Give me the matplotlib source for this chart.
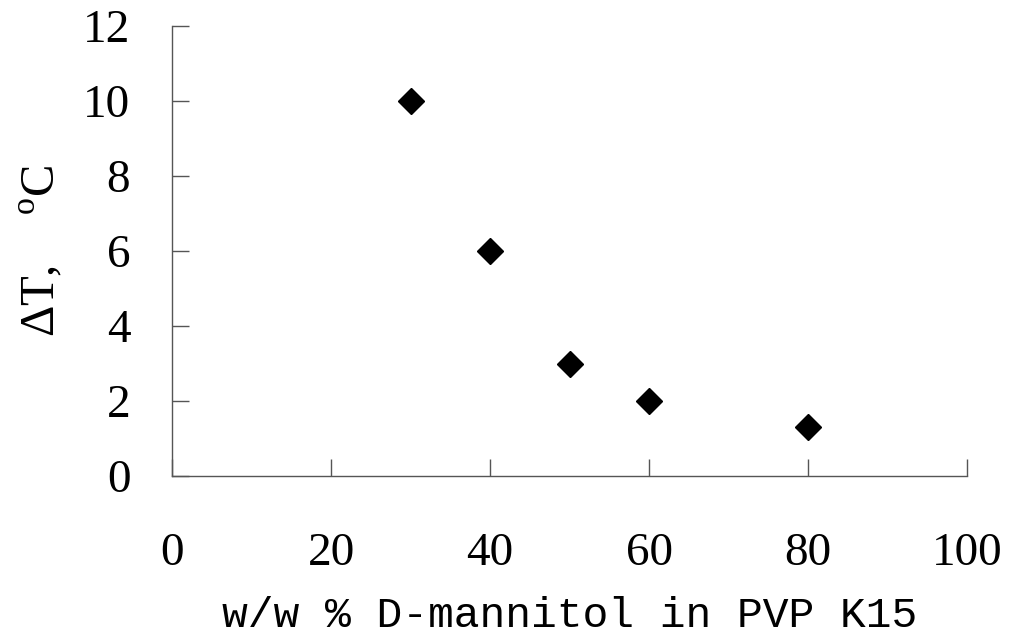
import matplotlib
matplotlib.use("Agg")
import matplotlib.pyplot as plt

# Data
mannitol_pct = [30, 40, 50, 60, 80]
delta_t = [10, 6, 3, 2, 1.3]

x_ticks = [0, 20, 40, 60, 80, 100]
y_ticks = [0, 2, 4, 6, 8, 10, 12]

plt.rcParams['font.family'] = ['Liberation Serif', 'DejaVu Serif']
plt.rcParams['mathtext.fontset'] = 'custom'
plt.rcParams['mathtext.rm'] = 'Liberation Serif'

fig = plt.figure(figsize=(10.13, 6.43), dpi=100)
ax = fig.add_axes([0.1698, 0.2597, 0.7848, 0.6999])

ax.plot(mannitol_pct, delta_t, linestyle='none', marker='D', markersize=13,
        color='black', clip_on=False)

ax.set_xlim(0, 100)
ax.set_ylim(0, 12)
ax.set_xticks(x_ticks)
ax.set_yticks(y_ticks)

for side in ['top', 'right']:
    ax.spines[side].set_visible(False)
for side in ['left', 'bottom']:
    ax.spines[side].set_color('#555555')
    ax.spines[side].set_linewidth(1.0)

ax.tick_params(axis='x', direction='in', length=12, width=1.0, color='#555555',
               pad=41, labelsize=34)
ax.tick_params(axis='y', direction='in', length=12, width=1.0, color='#555555',
               pad=30, labelsize=34)

ax.set_ylabel('ΔT,    $^\\mathregular{o}$C', fontsize=35, labelpad=13)
ax.set_xlabel('w/w % D-mannitol in PVP K15', fontsize=31,
              family=['Liberation Mono', 'DejaVu Sans Mono'], labelpad=15)

fig.savefig('out.png', dpi=100)
